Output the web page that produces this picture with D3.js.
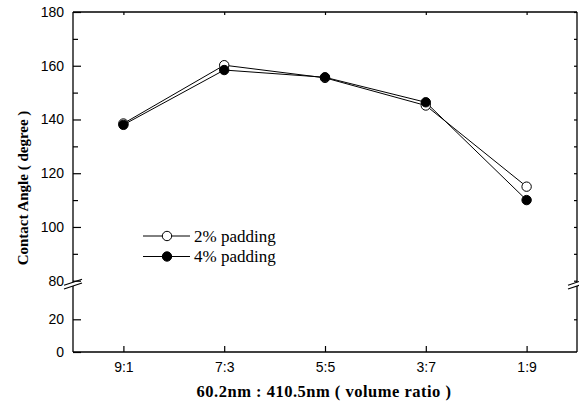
<!DOCTYPE html>
<html>
<head>
<meta charset="utf-8">
<script src="https://cdn.jsdelivr.net/npm/d3@7"></script>
<style>
  body { margin: 0; background: #fff; }
  svg { display: block; }
</style>
</head>
<body>
<svg id="misvg"></svg>
<script>
const ratios = ["9:1", "7:3", "5:5", "3:7", "1:9"];
const pad2 = [138.5, 160.2, 155.5, 145.2, 115.0];
const pad4 = [138.0, 158.4, 155.7, 146.4, 110.0];
const upperTicks = [80, 100, 120, 140, 160, 180];
const upperMinor = [90, 110, 130, 150, 170];
const lowerTicks = [0, 20];

const W = 579, H = 404;
const mLeft = 73, mRight = 577, mTop = 12, mBottom = 352;

const svg = d3.select("#misvg").attr("width", W).attr("height", H);

const x = d3.scalePoint()
  .domain(ratios)
  .range([mLeft, mRight])
  .padding(0.5);

// broken y axis: upper part 80-180, lower part 0-40
const yU = d3.scaleLinear().domain([80, 180]).range([280.7, mTop]);
const yL = d3.scaleLinear().domain([0, 40]).range([mBottom, 286.6]);

const tickFont = "'Liberation Sans', Arial, sans-serif";
const serif = "'Liberation Serif', 'Times New Roman', serif";

function styleAxis(g) {
  g.select(".domain").remove();
  g.selectAll("line").attr("stroke", "#000").attr("stroke-width", 1.2);
  g.selectAll("text").style("font-family", tickFont).style("font-size", "14px").attr("fill", "#000");
}

// left upper
svg.append("g").attr("transform", `translate(${mLeft},0)`)
  .call(d3.axisLeft(yU).tickValues(upperTicks).tickSize(-8).tickPadding(9))
  .call(styleAxis);
svg.append("g").attr("transform", `translate(${mLeft},0)`)
  .call(d3.axisLeft(yU).tickValues(upperMinor).tickSize(-5).tickFormat(""))
  .call(styleAxis);
// left lower
svg.append("g").attr("transform", `translate(${mLeft},0)`)
  .call(d3.axisLeft(yL).tickValues(lowerTicks).tickSize(-8).tickPadding(9))
  .call(styleAxis);
// right mirror
svg.append("g").attr("transform", `translate(${mRight},0)`)
  .call(d3.axisRight(yU).tickValues(upperTicks.concat(upperMinor)).tickSize(-3).tickFormat(""))
  .call(styleAxis);
svg.append("g").attr("transform", `translate(${mRight},0)`)
  .call(d3.axisRight(yL).tickValues([20]).tickSize(-3).tickFormat(""))
  .call(styleAxis);
// bottom
svg.append("g").attr("transform", `translate(0,${mBottom})`)
  .call(d3.axisBottom(x).tickSize(-6).tickPadding(10))
  .call(styleAxis);
// top mirror
svg.append("g").attr("transform", `translate(0,${mTop})`)
  .call(d3.axisTop(x).tickSize(-3).tickFormat(""))
  .call(styleAxis);

// frame lines with breaks
const frame = svg.append("g").attr("stroke", "#000").attr("stroke-width", 1.3).attr("fill", "none");
frame.append("line").attr("x1", mLeft).attr("x2", mRight).attr("y1", mTop).attr("y2", mTop);
frame.append("line").attr("x1", mLeft).attr("x2", mRight).attr("y1", mBottom).attr("y2", mBottom);
[mLeft, mRight].forEach(xx => {
  frame.append("line").attr("x1", xx).attr("x2", xx).attr("y1", mTop).attr("y2", yU(80) + 1.5);
  frame.append("line").attr("x1", xx).attr("x2", xx).attr("y1", yL(40) - 0.5).attr("y2", mBottom);
  // break marks
  [yU(80) + 1.5, yL(40) - 0.5].forEach(yy => {
    frame.append("line")
      .attr("x1", xx - 9).attr("y1", yy + 3)
      .attr("x2", xx + 9).attr("y2", yy - 3)
      .attr("stroke-width", 1.1);
  });
});

// series
const line = d3.line().x((d, i) => x(ratios[i])).y(d => yU(d));
const series = [
  { name: "2% padding", values: pad2, fill: "#fff" },
  { name: "4% padding", values: pad4, fill: "#000" }
];

series.forEach(s => {
  svg.append("path").datum(s.values)
    .attr("d", line)
    .attr("fill", "none").attr("stroke", "#000").attr("stroke-width", 1);
});
series.forEach(s => {
  svg.selectAll(null).data(s.values).enter().append("circle")
    .attr("cx", (d, i) => x(ratios[i]))
    .attr("cy", d => yU(d))
    .attr("r", 4.7)
    .attr("fill", s.fill)
    .attr("stroke", "#000").attr("stroke-width", 1);
});

// legend
const legend = svg.append("g");
series.forEach((s, i) => {
  const ly = 236 + i * 20.5;
  legend.append("line").attr("x1", 143).attr("x2", 190).attr("y1", ly).attr("y2", ly)
    .attr("stroke", "#000").attr("stroke-width", 1);
  legend.append("circle").attr("cx", 167).attr("cy", ly).attr("r", 4.7)
    .attr("fill", s.fill).attr("stroke", "#000").attr("stroke-width", 1);
  legend.append("text").attr("x", 194).attr("y", ly + 5.5)
    .style("font-family", serif).style("font-size", "17px")
    .text(s.name);
});

// axis titles
svg.append("text")
  .attr("transform", `translate(28,188) rotate(-90)`)
  .attr("text-anchor", "middle")
  .style("font-family", serif).style("font-weight", "bold").style("font-size", "15px")
  .text("Contact Angle ( degree )");

svg.append("text")
  .attr("x", 324).attr("y", 397)
  .attr("text-anchor", "middle")
  .style("font-family", serif).style("font-weight", "bold").style("font-size", "16.5px")
  .style("letter-spacing", "0.5px")
  .text("60.2nm : 410.5nm ( volume ratio )");
</script>
</body>
</html>
